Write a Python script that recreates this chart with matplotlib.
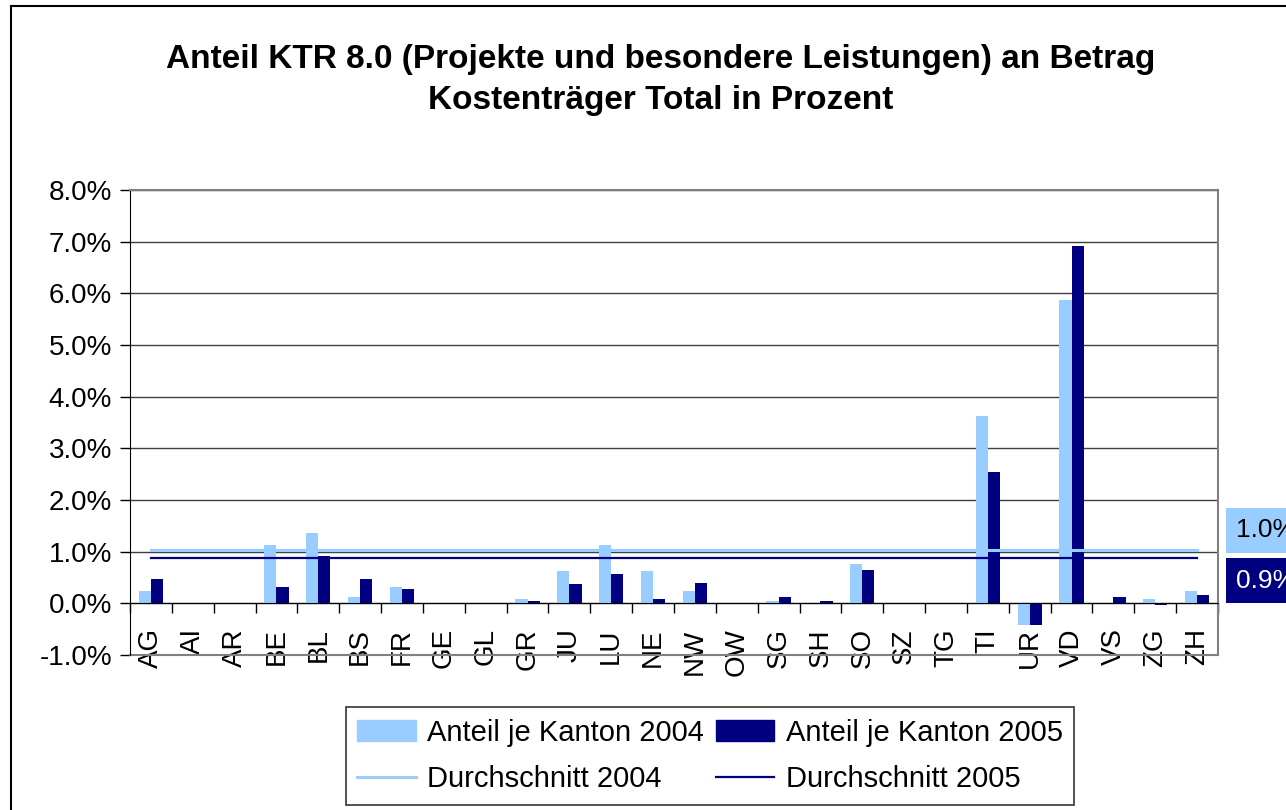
import numpy as np
import matplotlib
matplotlib.use('Agg')
import matplotlib.pyplot as plt
from matplotlib.patches import Patch, Rectangle
from matplotlib.lines import Line2D

plt.rcParams['font.family'] = ['Liberation Sans', 'DejaVu Sans']

# data (percent)
kantone = ['AG', 'AI', 'AR', 'BE', 'BL', 'BS', 'FR', 'GE', 'GL', 'GR', 'JU', 'LU', 'NE',
           'NW', 'OW', 'SG', 'SH', 'SO', 'SZ', 'TG', 'TI', 'UR', 'VD', 'VS', 'ZG', 'ZH']
anteil_2004 = [0.23, 0, 0, 1.13, 1.36, 0.12, 0.31, 0, 0, 0.08, 0.63, 1.13, 0.63,
               0.23, 0, 0.04, 0, 0.77, 0, 0, 3.62, -0.41, 5.87, 0, 0.08, 0.23]
anteil_2005 = [0.48, 0, 0, 0.32, 0.92, 0.48, 0.28, 0, 0, 0.04, 0.37, 0.56, 0.08,
               0.40, 0, 0.13, 0.04, 0.65, 0, 0, 2.55, -0.41, 6.92, 0.12, -0.04, 0.16]
schnitt_2004 = 1.03
schnitt_2005 = 0.88
yticks = [-1, 0, 1, 2, 3, 4, 5, 6, 7, 8]

light = '#99CCFF'
dark = '#000080'

W, H = 1286, 810
fig = plt.figure(figsize=(W / 100, H / 100), dpi=100)
ax = fig.add_axes([130 / W, 1 - 655 / H, (1218 - 130) / W, (655 - 190) / H])

# x axis sits on the zero line (set before the ticks, it resets them)
ax.spines['bottom'].set_position(('data', 0))
ax.spines['bottom'].set_zorder(4)
ax.spines['left'].set_color('black')
for s in ['top', 'right']:
    ax.spines[s].set_color('#808080')
    ax.spines[s].set_linewidth(1.5)

x = np.arange(len(kantone))
bw = 0.29
ax.bar(x - bw / 2, anteil_2004, bw, color=light, zorder=2)
ax.bar(x + bw / 2, anteil_2005, bw, color=dark, zorder=2)
ax.plot(x, np.full(len(x), schnitt_2004), color=light, lw=2.2, zorder=3)
ax.plot(x, np.full(len(x), schnitt_2005), color=dark, lw=1.6, zorder=3)

ax.set_xlim(-0.5, len(kantone) - 0.5)
ax.set_ylim(-1, 8)
ax.set_yticks(yticks)
ax.set_yticklabels(['%.1f%%' % v for v in yticks])
ax.yaxis.grid(True, color='#404040', lw=1)
ax.set_axisbelow(True)
ax.tick_params(axis='y', direction='out', length=7, width=1, pad=6, labelsize=20)

ax.set_xticks(x)
ax.set_xticklabels(kantone)
ax.set_xticks(np.arange(-0.5, len(kantone)), minor=True)
ax.tick_params(axis='x', which='major', length=0, pad=18, labelsize=20, labelrotation=90)
ax.tick_params(axis='x', which='minor', direction='out', length=7, width=1)

ax.plot([0, 1], [0, 0], transform=ax.transAxes, color='#808080', lw=1.5, clip_on=False)

# value labels of the averages
ax.annotate('%.1f%%' % schnitt_2004, xy=(x[-1], schnitt_2004), xytext=(39, 20),
            textcoords='offset pixels', ha='left', va='center', fontsize=19,
            color='black', annotation_clip=False,
            bbox=dict(boxstyle='square,pad=0.4', fc=light, ec='none'))
ax.annotate('%.1f%%' % schnitt_2005, xy=(x[-1], schnitt_2005), xytext=(39, -23),
            textcoords='offset pixels', ha='left', va='center', fontsize=19,
            color='white', annotation_clip=False,
            bbox=dict(boxstyle='square,pad=0.4', fc=dark, ec='none'))

fig.text(0.514, 1 - 80 / H, 'Anteil KTR 8.0 (Projekte und besondere Leistungen) an Betrag\n'
         'Kostenträger Total in Prozent', ha='center', va='center',
         fontsize=24, fontweight='bold', linespacing=1.4)

handles = [Patch(color=light), Line2D([], [], color=light, lw=2.2),
           Patch(color=dark), Line2D([], [], color=dark, lw=1.6)]
labels = ['Anteil je Kanton 2004', 'Durchschnitt 2004',
          'Anteil je Kanton 2005', 'Durchschnitt 2005']
leg = fig.legend(handles, labels, ncol=2, loc='center',
                 bbox_to_anchor=(710 / W, 1 - 756 / H), fontsize=21,
                 frameon=True, fancybox=False, edgecolor='black',
                 handlelength=2.0, handleheight=0.75, handletextpad=0.4,
                 columnspacing=0.4, labelspacing=0.62, borderpad=0.4)
leg.get_frame().set_linewidth(1.2)

fig.patches.append(Rectangle((11 / W, -0.05), 1.1, 1 - 6 / H + 0.05, transform=fig.transFigure,
                             fill=False, ec='black', lw=1.5))

fig.savefig('out.png', dpi=100)
